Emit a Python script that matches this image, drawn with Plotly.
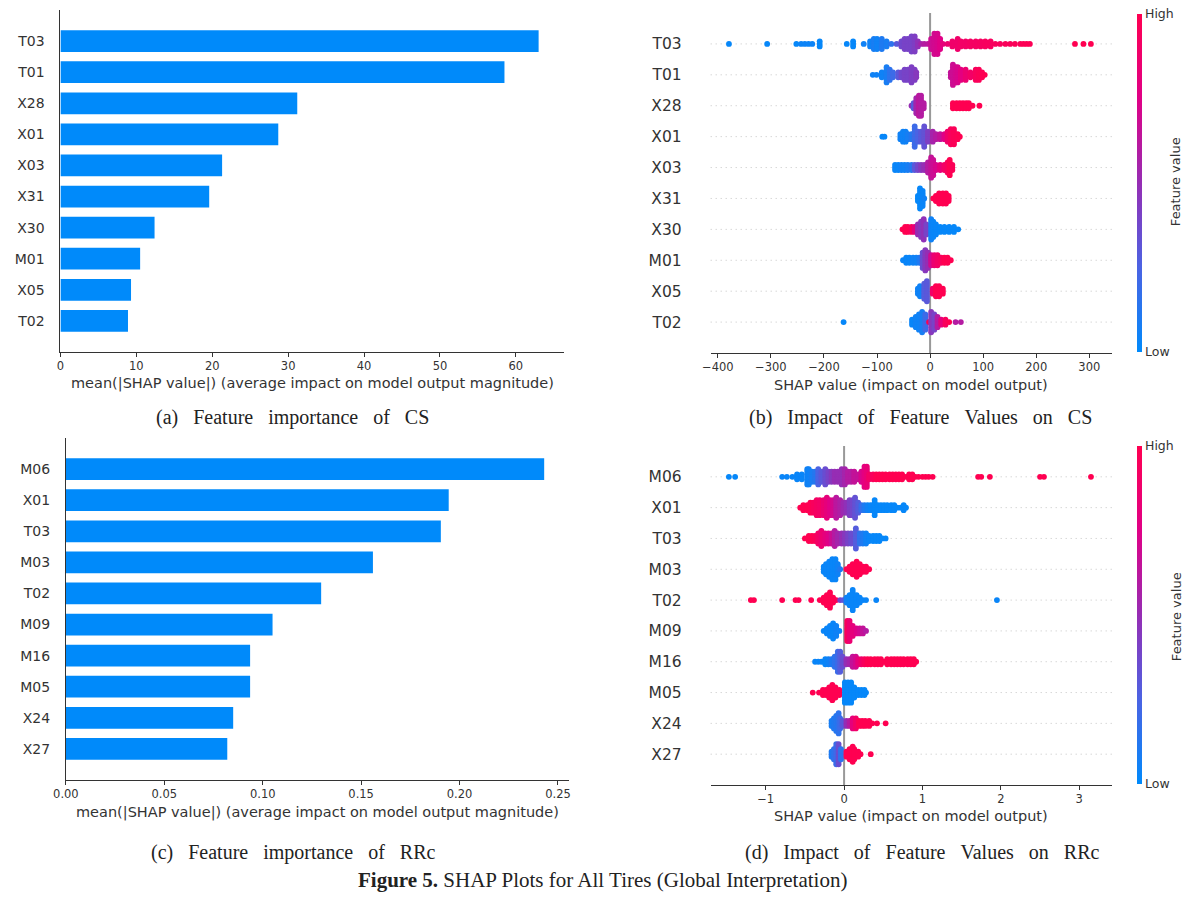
import plotly.graph_objects as go

# ---------------- data ----------------
# (a) CS: mean(|SHAP|) per feature, top to bottom
cs_features = ["T03", "T01", "X28", "X01", "X03", "X31", "X30", "M01", "X05", "T02"]
cs_mean_abs_shap = [63.0, 58.5, 31.2, 28.7, 21.3, 19.6, 12.4, 10.5, 9.3, 8.9]

# (c) RRc: mean(|SHAP|) per feature, top to bottom
rrc_features = ["M06", "X01", "T03", "M03", "T02", "M09", "M16", "M05", "X24", "X27"]
rrc_mean_abs_shap = [0.243, 0.1945, 0.1905, 0.156, 0.1297, 0.105, 0.0936, 0.0936, 0.085, 0.082]

# (b) CS beeswarm rows: (SHAP value, samples at that value, normalised feature value)
cs_T03 = [(-379, 1, .02), (-307, 1, .02), (-252, 1, .02), (-243, 1, .04), (-236, 1, .04), (-229, 1, .04),
          (-222, 1, .04), (-208, 3, .02), (-157, 1, .02), (-145, 3, .02), (-125, 1, .05), (-113, 3, .05),
          (-106, 5, .08), (-100, 5, .05), (-91, 5, .1), (-82, 3, .08), (-73, 1, .15), (-63, 1, .3),
          (-54, 3, .38), (-48, 5, .4), (-42, 5, .4), (-35, 7, .4), (-29, 7, .42), (-23, 3, .48),
          (-17, 1, .55), (-11, 1, .6), (-4, 1, .62), (2, 5, .68), (8, 9, .7), (14, 9, .72), (19, 5, .75),
          (24, 1, .8), (33, 1, .85), (42, 3, .88), (52, 5, .88), (58, 3, .9), (67, 3, .9), (76, 3, .92),
          (86, 3, .92), (95, 3, .93), (104, 3, .94), (114, 3, .94), (123, 1, .95), (132, 1, .95),
          (142, 1, .96), (151, 1, .96), (160, 1, .97), (170, 1, .97), (176, 1, .98), (182, 1, .98),
          (188, 1, .98), (273, 1, 1), (289, 1, 1), (303, 1, 1)]
cs_T01 = [(-108, 1, .05), (-101, 1, .05), (-91, 3, .05), (-82, 7, .08), (-76, 5, .15), (-70, 3, .2),
          (-60, 3, .3), (-54, 3, .38), (-48, 5, .4), (-42, 5, .4), (-35, 7, .42), (-29, 5, .42),
          (-26, 3, .45), (39, 3, .65), (43, 9, .68), (48, 7, .7), (52, 7, .72), (58, 5, .78), (67, 5, .85),
          (76, 3, .9), (86, 5, .95), (92, 5, .97), (98, 3, .98), (103, 1, 1)]
cs_X28 = [(-35, 1, .5), (-31, 3, .3), (-26, 7, .55), (-21, 9, .62), (-17, 9, .6), (-12, 3, .6),
          (43, 3, 1), (50, 3, 1), (56, 3, 1), (62, 3, 1), (68, 3, 1), (73, 3, 1), (80, 1, 1), (93, 1, 1)]
cs_X01 = [(-90, 1, .02), (-86, 1, .02), (-56, 3, .05), (-51, 5, .05), (-46, 5, .05), (-42, 3, .08),
          (-35, 3, .12), (-29, 9, .2), (-23, 5, .25), (-17, 5, .3), (-11, 9, .33), (-4, 5, .42),
          (5, 5, .55), (11, 3, .6), (19, 3, .65), (27, 3, .75), (33, 5, .88), (39, 7, .95), (45, 7, .97),
          (52, 3, .98), (56, 1, 1)]
cs_X03 = [(-66, 3, .03), (-60, 3, .03), (-54, 3, .05), (-48, 3, .05), (-42, 3, .08), (-35, 3, .12),
          (-29, 3, .3), (-23, 3, .38), (-17, 3, .45), (-11, 3, .5), (-4, 5, .6), (2, 9, .65), (6, 7, .68),
          (11, 3, .72), (19, 3, .8), (27, 3, .9), (33, 5, .95), (37, 7, 1), (42, 3, .97)]
cs_X31 = [(-23, 3, .02), (-19, 9, .02), (-14, 7, .03), (-11, 1, .05), (6, 1, 1), (11, 3, 1), (17, 5, 1),
          (24, 5, 1), (30, 5, 1), (35, 3, 1)]
cs_X30 = [(-52, 1, 1), (-47, 3, 1), (-42, 3, 1), (-35, 3, .95), (-29, 3, .8), (-23, 5, .5), (-17, 7, .45),
          (-12, 9, .48), (-7, 5, .4), (2, 9, .05), (6, 7, .03), (11, 5, .03), (19, 3, .02), (27, 3, .02),
          (36, 3, .02), (45, 3, .02), (53, 1, .02)]
cs_M01 = [(-51, 1, .03), (-45, 3, .03), (-39, 3, .03), (-32, 3, .05), (-26, 3, .05), (-20, 3, .1),
          (-14, 7, .35), (-9, 9, .45), (-4, 7, .5), (2, 5, .7), (8, 5, .85), (14, 5, .9), (21, 3, .95),
          (27, 3, 1), (33, 3, 1), (39, 1, 1)]
cs_X05 = [(-23, 3, .05), (-19, 5, .05), (-11, 7, .28), (-6, 9, .3), (5, 3, .9), (11, 5, 1), (17, 5, 1),
          (24, 3, 1)]
cs_T02 = [(-163, 1, .02), (-34, 3, .03), (-27, 5, .05), (-21, 7, .05), (-15, 9, .08), (-9, 7, .2),
          (-2, 1, 1), (2, 9, .45), (8, 7, .4), (14, 5, .6), (21, 3, .8), (29, 3, .95), (36, 1, 1),
          (48, 1, .6), (58, 1, .6)]
cs_swarm_rows = [cs_T03, cs_T01, cs_X28, cs_X01, cs_X03, cs_X31, cs_X30, cs_M01, cs_X05, cs_T02]

# (d) RRc beeswarm rows: (SHAP value, samples at that value, normalised feature value)
rrc_M06 = [(-1.47, 1, .02), (-1.39, 1, .02), (-0.79, 1, .03), (-0.73, 1, .03), (-0.66, 1, .03),
           (-0.60, 3, .03), (-0.54, 3, .03), (-0.47, 7, .05), (-0.45, 7, .05), (-0.41, 5, .08),
           (-0.37, 5, .12), (-0.33, 7, .25), (-0.29, 5, .3), (-0.24, 7, .35), (-0.20, 5, .4),
           (-0.16, 5, .45), (-0.12, 5, .5), (-0.08, 5, .5), (-0.03, 7, .5), (0.01, 7, .55), (0.05, 5, .6),
           (0.09, 5, .6), (0.13, 5, .65), (0.18, 3, .65), (0.22, 5, .72), (0.26, 9, .78), (0.29, 9, .82),
           (0.32, 3, .9), (0.37, 3, .95), (0.41, 3, 1), (0.45, 3, 1), (0.49, 3, 1), (0.53, 3, 1),
           (0.58, 3, 1), (0.62, 3, 1), (0.66, 3, 1), (0.70, 3, 1), (0.74, 3, 1), (0.79, 1, 1),
           (0.83, 3, 1), (0.87, 3, 1), (0.91, 1, 1), (0.95, 1, 1), (1.00, 1, 1), (1.04, 1, 1),
           (1.08, 1, 1), (1.13, 1, 1), (1.71, 1, 1), (1.75, 1, 1), (1.86, 1, 1), (2.50, 1, 1),
           (2.55, 1, 1), (3.15, 1, 1)]
rrc_X01 = [(-0.56, 1, 1), (-0.52, 3, 1), (-0.47, 3, 1), (-0.43, 5, .98), (-0.39, 5, .95), (-0.35, 7, .92),
           (-0.31, 7, .9), (-0.26, 7, .85), (-0.22, 9, .8), (-0.18, 7, .75), (-0.14, 7, .7),
           (-0.10, 9, .62), (-0.05, 7, .58), (-0.01, 5, .52), (0.03, 5, .48), (0.07, 7, .42),
           (0.11, 7, .38), (0.14, 9, .33), (0.18, 5, .28), (0.22, 3, .18), (0.26, 3, .1), (0.30, 3, .05),
           (0.34, 3, .03), (0.39, 7, .02), (0.43, 3, .02), (0.47, 3, .02), (0.51, 3, .02), (0.55, 3, .02),
           (0.60, 3, .02), (0.64, 3, .02), (0.68, 1, .02), (0.72, 1, .02), (0.76, 3, .02), (0.79, 1, .02)]
rrc_T03 = [(-0.50, 1, 1), (-0.45, 3, 1), (-0.41, 3, 1), (-0.37, 3, .97), (-0.33, 5, .9), (-0.29, 7, .85),
           (-0.24, 5, .8), (-0.20, 5, .75), (-0.16, 5, .68), (-0.12, 7, .6), (-0.08, 5, .55),
           (-0.03, 5, .5), (0.01, 5, .45), (0.05, 5, .4), (0.09, 5, .35), (0.15, 9, .28), (0.20, 5, .15),
           (0.24, 5, .1), (0.28, 5, .05), (0.32, 3, .03), (0.37, 3, .02), (0.41, 3, .02), (0.45, 3, .02),
           (0.49, 1, .02), (0.53, 1, .02)]
rrc_M03 = [(-0.26, 3, .03), (-0.23, 5, .03), (-0.19, 7, .03), (-0.15, 9, .03), (-0.11, 9, .03),
           (-0.08, 5, .05), (-0.05, 1, .1), (0.03, 1, 1), (0.07, 3, 1), (0.11, 5, 1), (0.16, 7, 1),
           (0.20, 5, 1), (0.24, 3, 1), (0.28, 3, 1), (0.32, 1, 1)]
rrc_T02 = [(-1.19, 1, 1), (-1.15, 1, 1), (-0.79, 1, 1), (-0.62, 1, 1), (-0.58, 1, 1), (-0.42, 1, 1),
           (-0.31, 1, 1), (-0.26, 3, 1), (-0.22, 5, 1), (-0.18, 7, 1), (-0.14, 3, 1), (-0.10, 1, 1),
           (-0.05, 1, .4), (-0.01, 1, .3), (0.03, 3, .05), (0.07, 5, .03), (0.11, 9, .03), (0.16, 5, .03),
           (0.20, 3, .03), (0.24, 1, .03), (0.28, 1, .03), (0.41, 1, .03), (1.95, 1, .03)]
rrc_M09 = [(-0.26, 1, .03), (-0.22, 3, .03), (-0.18, 5, .03), (-0.14, 7, .03), (-0.10, 5, .05),
           (-0.06, 1, .05), (0.04, 9, .95), (0.07, 9, .85), (0.11, 5, .8), (0.16, 3, .75), (0.20, 3, .7),
           (0.24, 3, .65), (0.28, 1, .6)]
rrc_M16 = [(-0.37, 1, .03), (-0.33, 1, .03), (-0.29, 1, .03), (-0.24, 3, .03), (-0.20, 3, .05),
           (-0.16, 3, .1), (-0.12, 5, .15), (-0.08, 9, .2), (-0.05, 9, .28), (-0.02, 5, .35),
           (0.03, 3, .5), (0.07, 3, .55), (0.11, 5, .65), (0.15, 5, .7), (0.18, 3, .8), (0.22, 3, .88),
           (0.26, 3, .95), (0.30, 3, 1), (0.34, 3, 1), (0.39, 3, 1), (0.43, 3, 1), (0.47, 3, 1),
           (0.51, 1, 1), (0.55, 3, 1), (0.60, 3, 1), (0.64, 3, 1), (0.68, 3, 1), (0.72, 3, 1),
           (0.76, 3, 1), (0.81, 3, 1), (0.85, 3, 1), (0.89, 3, 1), (0.92, 1, 1)]
rrc_M05 = [(-0.40, 1, 1), (-0.32, 1, 1), (-0.27, 3, 1), (-0.23, 3, 1), (-0.19, 5, 1), (-0.15, 7, 1),
           (-0.11, 5, 1), (-0.06, 3, 1), (0.01, 9, .02), (0.05, 9, .02), (0.09, 9, .02), (0.13, 5, .02),
           (0.18, 3, .02), (0.22, 3, .02), (0.26, 3, .02), (0.28, 1, .02)]
rrc_X24 = [(-0.16, 3, .08), (-0.13, 5, .1), (-0.10, 7, .12), (-0.07, 9, .15), (-0.05, 5, .2),
           (-0.02, 3, .3), (0.03, 3, .5), (0.07, 3, .6), (0.11, 5, .8), (0.15, 5, .9), (0.19, 3, 1),
           (0.23, 3, 1), (0.27, 3, 1), (0.32, 3, 1), (0.36, 1, 1), (0.42, 1, 1), (0.53, 1, 1)]
rrc_X27 = [(-0.16, 3, .1), (-0.13, 5, .15), (-0.10, 9, .2), (-0.07, 9, .35), (-0.04, 5, .15),
           (0.03, 3, 1), (0.07, 5, 1), (0.11, 7, 1), (0.13, 5, 1), (0.18, 3, 1), (0.21, 1, 1), (0.34, 1, 1)]
rrc_swarm_rows = [rrc_M06, rrc_X01, rrc_T03, rrc_M03, rrc_T02, rrc_M09, rrc_M16, rrc_M05, rrc_X24, rrc_X27]

cs_shap_ticks = [-400, -300, -200, -100, 0, 100, 200, 300]
rrc_shap_ticks = [-1, 0, 1, 2, 3]

# ---------------- styling ----------------
FONT = "DejaVu Sans"
TXT = "#333333"
BAR_BLUE = "rgb(0,138,250)"
# shap red_blue map (LCh interpolation sampled to RGB)
RED_BLUE = [[0.0, "rgb(0,138,251)"], [0.25, "rgb(75,99,227)"], [0.5, "rgb(150,45,180)"],
            [0.75, "rgb(224,0,134)"], [1.0, "rgb(255,0,81)"]]
LAYER_GAP = 0.082   # vertical step between stacked samples, in row units
N = 10


def swarm(rows):
    """Stack samples sharing a SHAP value alternately above/below the row line."""
    xs, ys, cs = [], [], []
    for i, row in enumerate(rows):
        base = N - 1 - i
        for x, n, c in row:
            for k in range(n):
                off = ((k + 1) // 2) * (1 if k % 2 else -1)
                xs.append(x)
                ys.append(base + off * LAYER_GAP)
                cs.append(c)
    return xs, ys, cs


fig = go.Figure()
rows_y = list(range(N - 1, -1, -1))

fig.add_trace(go.Bar(x=cs_mean_abs_shap, y=rows_y, orientation="h", width=0.7,
                     marker=dict(color=BAR_BLUE, line=dict(width=0)), xaxis="x", yaxis="y",
                     hoverinfo="skip"))
fig.add_trace(go.Bar(x=rrc_mean_abs_shap, y=rows_y, orientation="h", width=0.7,
                     marker=dict(color=BAR_BLUE, line=dict(width=0)), xaxis="x3", yaxis="y3",
                     hoverinfo="skip"))

for rows, xa, ya, cax in [(cs_swarm_rows, "x2", "y2", "coloraxis"),
                          (rrc_swarm_rows, "x4", "y4", "coloraxis2")]:
    xs, ys, cs = swarm(rows)
    fig.add_trace(go.Scatter(x=xs, y=ys, mode="markers", xaxis=xa, yaxis=ya, hoverinfo="skip",
                             marker=dict(size=5.8, color=cs, coloraxis=cax, line=dict(width=0))))

W, H = 1189, 900


def px_x(a, b):
    return [a / W, b / W]


def px_y(top, bottom):
    return [1 - bottom / H, 1 - top / H]


tickfont = dict(family=FONT, size=11.5, color=TXT)
bar_x_common = dict(showline=True, linecolor=TXT, linewidth=1, ticks="outside", ticklen=3.5,
                    tickcolor=TXT, tickfont=tickfont, showgrid=False, zeroline=False)
swarm_x_common = dict(bar_x_common)
bar_y_common = dict(range=[-1, 10], tickvals=rows_y, showline=True, linecolor=TXT, linewidth=1,
                    ticks="", ticklabelstandoff=12, tickfont=dict(family=FONT, size=14, color=TXT),
                    showgrid=False, zeroline=False)
swarm_y_common = dict(range=[-1, 10], tickvals=rows_y, showline=False, ticks="",
                      ticklabelstandoff=28, tickfont=dict(family=FONT, size=15.5, color=TXT),
                      showgrid=False, zeroline=False)

cbar_common = dict(thickness=5, lenmode="pixels", len=338, xanchor="left", x=1137 / W, xpad=0,
                   ypad=0, yanchor="middle", tickvals=[0, 1], ticktext=["Low", "High"], ticks="",
                   outlinewidth=0, tickfont=dict(family=FONT, size=12.5, color=TXT))

fig.update_layout(
    width=W, height=H, margin=dict(l=0, r=0, t=0, b=0),
    paper_bgcolor="white", plot_bgcolor="rgba(0,0,0,0)", showlegend=False,
    xaxis=dict(domain=px_x(48, 558), range=[0, 66.4], tickvals=[0, 10, 20, 30, 40, 50, 60],
               anchor="y", **bar_x_common),
    yaxis=dict(domain=px_y(10, 352), ticktext=cs_features, anchor="x", **bar_y_common),
    xaxis3=dict(domain=px_x(53.5, 563), range=[0, 0.2558], tickvals=[0, 0.05, 0.10, 0.15, 0.20, 0.25],
                tickformat=".2f", anchor="y3", **bar_x_common),
    yaxis3=dict(domain=px_y(438, 780), ticktext=rrc_features, anchor="x3", **bar_y_common),
    xaxis2=dict(domain=px_x(706, 1112), range=[-413.4, 342.6], tickvals=cs_shap_ticks,
                anchor="y2", **swarm_x_common),
    yaxis2=dict(domain=px_y(13, 353), ticktext=cs_features, anchor="x2", **swarm_y_common),
    xaxis4=dict(domain=px_x(706, 1112), range=[-1.702, 3.417], tickvals=rrc_shap_ticks,
                anchor="y4", **swarm_x_common),
    yaxis4=dict(domain=px_y(446, 785), ticktext=rrc_features, anchor="x4", **swarm_y_common),
    coloraxis=dict(colorscale=RED_BLUE, cmin=0, cmax=1,
                   colorbar=dict(y=1 - 182.5 / H, **cbar_common)),
    coloraxis2=dict(colorscale=RED_BLUE, cmin=0, cmax=1,
                    colorbar=dict(y=1 - 615 / H, **cbar_common)),
)

# dotted row guides and zero line behind the swarms
shapes = []
for xa, ya in [("x2", "y2"), ("x4", "y4")]:
    for r in rows_y:
        shapes.append(dict(type="line", xref=f"{xa} domain", yref=ya, x0=0, x1=1, y0=r, y1=r,
                           layer="below", line=dict(color="#c4c4c4", width=1, dash="1px,4px")))
    shapes.append(dict(type="line", xref=xa, yref=f"{ya} domain", x0=0, x1=0, y0=0, y1=1,
                       layer="below", line=dict(color="#999999", width=2)))
fig.update_layout(shapes=shapes)

bar_label = "mean(|SHAP value|) (average impact on model output magnitude)"
swarm_label = "SHAP value (impact on model output)"
SP = "\u00a0\u00a0\u00a0"
SERIF = "Liberation Serif"
annotations = [
    (303, 383, bar_label, 14.5, FONT, 0),
    (308, 812, bar_label, 14.5, FONT, 0),
    (909, 385, swarm_label, 14.5, FONT, 0),
    (909, 816, swarm_label, 14.5, FONT, 0),
    (1177, 182, "Feature value", 13, FONT, -90),
    (1177, 617, "Feature value", 13, FONT, -90),
    (283, 417, SP.join("(a) Feature importance of CS".split(" ")), 20, SERIF, 0),
    (918, 417, SP.join("(b) Impact of Feature Values on CS".split(" ")), 20, SERIF, 0),
    (283, 852, SP.join("(c) Feature importance of RRc".split(" ")), 20, SERIF, 0),
    (920, 852, SP.join("(d) Impact of Feature Values on RRc".split(" ")), 20, SERIF, 0),
    (597, 880, "<b>Figure 5.</b> SHAP Plots for All Tires (Global Interpretation)", 21, SERIF, 0),
]
for x, y, text, size, fam, ang in annotations:
    fig.add_annotation(x=x / W, y=1 - y / H, xref="paper", yref="paper", text=text, showarrow=False,
                       xanchor="center", yanchor="middle", textangle=ang,
                       font=dict(family=fam, size=size, color="#222222" if fam != FONT else TXT))

fig.write_html("out.html")
